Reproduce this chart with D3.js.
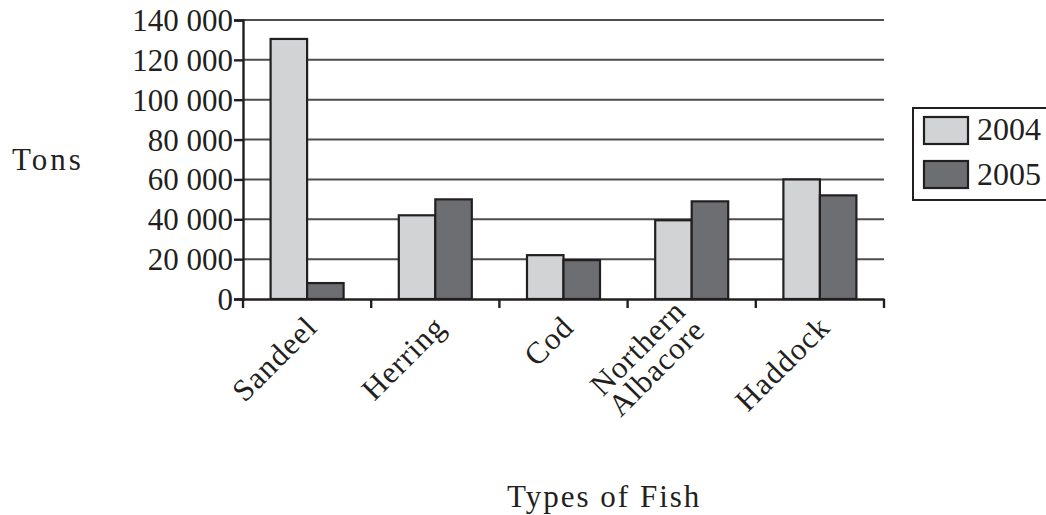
<!DOCTYPE html>
<html><head><meta charset="utf-8">
<script src="https://cdn.jsdelivr.net/npm/d3@7"></script>
<style>body{margin:0;background:#fff}svg{display:block}text{font-family:"Liberation Serif","Times New Roman",serif;fill:#231f20}</style>
</head><body><svg id="c" width="1046" height="515"></svg>
<script>
const categories = ["Sandeel","Herring","Cod","Northern Albacore","Haddock"];
const seriesNames = ["2004","2005"];
const values2004 = [130500, 42000, 22000, 39500, 60000];
const values2005 = [8000, 50000, 19500, 49000, 52000];
const yTicks = [0,20000,40000,60000,80000,100000,120000,140000];
const colors = ["#d1d3d4","#6d6e71"];

const svg = d3.select("#c");
const L = 243, R = 884, T = 20, B = 299;
const x = d3.scaleBand().domain(categories).range([L, R]).paddingInner(0).paddingOuter(0);
const x1 = d3.scaleBand().domain(seriesNames).range([0, x.bandwidth()]).paddingInner(0).paddingOuter(0.756);
const y = d3.scaleLinear().domain([0,140000]).range([B, T]);
const fmt = v => d3.format(",")(v).replace(/,/g, " ");

// gridlines
svg.append("g").selectAll("line").data(yTicks.filter(d=>d>0)).join("line")
  .attr("x1", L).attr("x2", R).attr("y1", d=>y(d)).attr("y2", d=>y(d))
  .attr("stroke", "#4d4d4f").attr("stroke-width", 2);

// bars
const data = categories.map((c,i)=>({c, vals:[values2004[i], values2005[i]]}));
const g = svg.append("g").selectAll("g").data(data).join("g")
  .attr("transform", d=>`translate(${x(d.c)},0)`);
g.selectAll("rect").data(d=>d.vals.map((v,j)=>({v, s:seriesNames[j], j}))).join("rect")
  .attr("x", d=>x1(d.s)).attr("width", x1.bandwidth())
  .attr("y", d=>y(d.v)).attr("height", d=>B - y(d.v))
  .attr("fill", d=>colors[d.j]).attr("stroke", "#231f20").attr("stroke-width", 2.2);

// y axis
const yAxis = d3.axisLeft(y).tickValues(yTicks).tickFormat(fmt).tickSize(9).tickPadding(1);
const ya = svg.append("g").attr("transform", `translate(${L},0)`).call(yAxis);
ya.select(".domain").attr("stroke", "#231f20").attr("stroke-width", 2.4);
ya.selectAll(".tick line").attr("stroke", "#231f20").attr("stroke-width", 2.4);
ya.selectAll("text").attr("font-size", 31).attr("font-family", "Liberation Serif").attr("fill", "#231f20").attr("dy", "0.34em");

// x axis
const xAxis = d3.axisBottom(x).tickSize(0).tickFormat("");
const xa = svg.append("g").attr("transform", `translate(0,${B})`).call(xAxis);
xa.select(".domain").attr("stroke", "#231f20").attr("stroke-width", 2.4);
const edges = categories.map(c=>x(c)).concat([R]);
xa.selectAll("line.edge").data(edges).join("line").attr("class","edge")
  .attr("x1", d=>d).attr("x2", d=>d).attr("y1", 0).attr("y2", 9)
  .attr("stroke", "#231f20").attr("stroke-width", 2.4);

// category labels
const labs = svg.append("g").selectAll("text").data(categories).join("text")
  .attr("transform", d=>{
    const two = d === "Northern Albacore";
    return `translate(${x(d)+x.bandwidth()/2+12+(two?3:0)},${B+30+(two?3:0)}) rotate(-45)`;
  })
  .attr("text-anchor", "end").attr("font-size", 31).attr("letter-spacing", 1);
labs.each(function(d){
  const parts = d === "Northern Albacore" ? ["Northern","Albacore"] : [d];
  const t = d3.select(this);
  parts.forEach((p,i)=>{
    t.append("tspan").attr("x", 0).attr("dy", parts.length===1 ? 0 : (i===0 ? "-0.88em" : "0.88em")).text(p);
  });
});

// axis titles
svg.append("text").attr("x", 12).attr("y", 170).attr("font-size", 31).attr("letter-spacing", 3).text("Tons");
svg.append("text").attr("x", 507).attr("y", 507).attr("font-size", 31).attr("letter-spacing", 2).text("Types of Fish");

// legend
const lg = svg.append("g");
lg.append("rect").attr("x", 913).attr("y", 108).attr("width", 140).attr("height", 92)
  .attr("fill", "#fff").attr("stroke", "#231f20").attr("stroke-width", 2);
seriesNames.forEach((s,i)=>{
  lg.append("rect").attr("x", 924).attr("y", 117 + i*44).attr("width", 44).attr("height", 27)
    .attr("fill", colors[i]).attr("stroke", "#231f20").attr("stroke-width", 2.2);
  lg.append("text").attr("x", 977).attr("y", 140 + i*45).attr("font-size", 32).text(s);
});
</script></body></html>
